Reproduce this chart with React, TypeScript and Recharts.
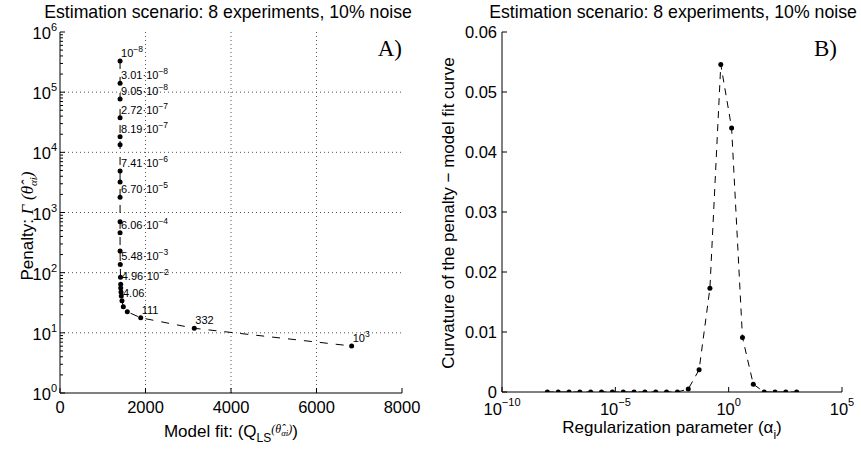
import React from 'react';
import { LineChart, Line, XAxis, YAxis, ReferenceLine, LabelList } from 'recharts';

const FONT = '"Liberation Sans", Arial, Helvetica, sans-serif';
const SERIF = '"Liberation Serif", "Times New Roman", serif';

// Regularization parameters
const alphas = [1e-8, 3.01e-8, 9.05e-8, 2.72e-7, 8.19e-7, 2.46e-6, 7.41e-6, 2.23e-5, 6.7e-5, 2.02e-4, 6.06e-4, 1.82e-3, 5.48e-3, 1.65e-2, 4.96e-2, 0.149, 0.449, 1.35, 4.06, 12.2, 36.8, 111, 332, 1000];
// Panel A: model fit (x) and penalty (y, log)
const modelFit = [1405, 1405, 1405, 1405, 1405, 1405, 1405, 1405, 1405, 1405, 1405, 1405, 1410, 1415, 1420, 1420, 1427, 1434, 1450, 1481, 1574, 1888, 3141, 6822];
const penalty = [3.3e5, 1.4e5, 7.7e4, 3.76e4, 1.82e4, 1.34e4, 4.9e3, 3.21e3, 1.79e3, 703, 461, 229, 137, 83.7, 64.1, 55.6, 47.7, 40.9, 34.2, 27.2, 22.4, 17.8, 11.9, 6.04];
const pointLabels = ['10^-8', '3.01·10^-8', '9.05·10^-8', '2.72·10^-7', '8.19·10^-7', '', '7.41·10^-6', '', '6.70·10^-5', '', '6.06·10^-4', '', '5.48·10^-3', '', '4.96·10^-2', '', '', '', '4.06', '', '', '111', '332', '10^3'];
// Panel B: curvature
const curvature = [0, 0, 0, 0, 0, 0, 0, 0, 0, 0, 0, 0, 0, 0.0005, 0.0037, 0.0173, 0.0546, 0.044, 0.0091, 0.0013, 0, 0, 0, 0];

const fitTicks = [0, 2000, 4000, 6000, 8000];
const penaltyMajor = [1, 10, 100, 1e3, 1e4, 1e5, 1e6];
const alphaTicks = [1e-10, 1e-5, 1, 1e5];
const curvTicks = [0, 0.01, 0.02, 0.03, 0.04, 0.05, 0.06];
const title = 'Estimation scenario: 8 experiments, 10% noise';

const penaltyTicks: number[] = [];
penaltyMajor.slice(0, -1).forEach((d) => {
  for (let m = 1; m <= 9; m++) penaltyTicks.push(m * d);
});
penaltyTicks.push(penaltyMajor[penaltyMajor.length - 1]);

const leftData = alphas.map((a, i) => ({ alpha: a, fit: modelFit[i], penalty: penalty[i], label: pointLabels[i] }));
const rightData = alphas.map((a, i) => ({ alpha: a, curv: curvature[i] }));

const TICK_FS = 16.5;

const isMajor = (v: number) => {
  const lg = Math.log10(v);
  return Math.abs(lg - Math.round(lg)) < 1e-6;
};
const expStr = (v: number) => String(Math.round(Math.log10(v))).replace('-', '\u2212');

function PenaltyTick(p: any) {
  const { x, y, payload } = p;
  const v = payload.value;
  const major = isMajor(v);
  return (
    <g>
      <line x1={x} x2={x + (major ? 5 : 3)} y1={y} y2={y} stroke="#000" strokeWidth={1} />
      {major && (
        <text x={x - 3} y={y + 7} textAnchor="end" fontSize={TICK_FS} fontFamily={FONT} fill="#000">
          10<tspan dy={-8} fontSize={11}>{expStr(v)}</tspan>
        </text>
      )}
    </g>
  );
}
function PenaltyMirrorTick(p: any) {
  const { x, y, payload } = p;
  const major = isMajor(payload.value);
  return <line x1={x} x2={x - (major ? 5 : 3)} y1={y} y2={y} stroke="#000" strokeWidth={1} />;
}
function FitTick(p: any) {
  const { x, y, payload } = p;
  return (
    <g>
      <line x1={x} x2={x} y1={y} y2={y - 5} stroke="#000" />
      <text x={x} y={y + 20} textAnchor="middle" fontSize={TICK_FS} fontFamily={FONT} fill="#000">
        {payload.value}
      </text>
    </g>
  );
}
function TopTick(p: any) {
  const { x, y } = p;
  return <line x1={x} x2={x} y1={y} y2={y + 5} stroke="#000" />;
}
function AlphaTick(p: any) {
  const { x, y, payload } = p;
  return (
    <g>
      <line x1={x} x2={x} y1={y} y2={y - 5} stroke="#000" />
      <text x={x} y={y + 23} textAnchor="middle" fontSize={TICK_FS} fontFamily={FONT} fill="#000">
        10<tspan dy={-9} fontSize={11}>{expStr(payload.value)}</tspan>
      </text>
    </g>
  );
}
function CurvTick(p: any) {
  const { x, y, payload } = p;
  const v = payload.value;
  return (
    <g>
      <line x1={x} x2={x + 5} y1={y} y2={y} stroke="#000" />
      <text x={x - 5} y={y + 6} textAnchor="end" fontSize={TICK_FS} fontFamily={FONT} fill="#000">
        {v === 0 ? '0' : v.toFixed(2)}
      </text>
    </g>
  );
}
function CurvMirrorTick(p: any) {
  const { x, y } = p;
  return <line x1={x} x2={x - 5} y1={y} y2={y} stroke="#000" />;
}

function PointLabel(p: any) {
  const { x, y, value } = p;
  if (!value) return null;
  const parts = String(value).split('^');
  return (
    <text x={x + 1} y={y - 4} fontSize={11} fontFamily={FONT} fill="#000">
      {parts[0]}
      {parts.length > 1 && (
        <tspan dy={-5} fontSize={8.5}>
          {parts[1].replace('-', '\u2212')}
        </tspan>
      )}
    </text>
  );
}

const axisLine = { stroke: '#000', strokeWidth: 1 };
const grid = { stroke: '#555', strokeDasharray: '1 3', strokeWidth: 1 };

export default function App() {
  return (
    <div style={{ position: 'absolute', left: 0, top: 0, width: 861, height: 449, background: '#fff', overflow: 'hidden' }}>
      <div style={{ position: 'absolute', left: 0, top: 0 }}>
        <LineChart width={440} height={449} data={leftData} margin={{ top: 32, right: 38, bottom: 0, left: 0 }}>
          <XAxis xAxisId="b" orientation="bottom" type="number" dataKey="fit" domain={[0, 8000]} ticks={fitTicks} interval={0}
            tickSize={0} tickMargin={0} tickLine={false} tick={FitTick} height={56} axisLine={axisLine} allowDataOverflow />
          <XAxis xAxisId="t" orientation="top" type="number" dataKey="fit" domain={[0, 8000]} ticks={fitTicks} interval={0}
            tickSize={0} tickMargin={0} tickLine={false} tick={TopTick} height={0} axisLine={axisLine} allowDataOverflow />
          <YAxis yAxisId="l" orientation="left" type="number" scale="log" dataKey="penalty" domain={[1, 1e6]} ticks={penaltyTicks}
            interval={0} tickSize={0} tickMargin={0} tickLine={false} tick={PenaltyTick} width={60} axisLine={axisLine} allowDataOverflow />
          <YAxis yAxisId="r" orientation="right" type="number" scale="log" dataKey="penalty" domain={[1, 1e6]} ticks={penaltyTicks}
            interval={0} tickSize={0} tickMargin={0} tickLine={false} tick={PenaltyMirrorTick} width={0} axisLine={axisLine} allowDataOverflow />
          {fitTicks.slice(1, -1).map((v) => (
            <ReferenceLine key={'gx' + v} xAxisId="b" yAxisId="l" x={v} {...grid} />
          ))}
          {penaltyMajor.slice(1, -1).map((v) => (
            <ReferenceLine key={'gy' + v} xAxisId="b" yAxisId="l" y={v} {...grid} />
          ))}
          <Line xAxisId="b" yAxisId="l" dataKey="penalty" stroke="#000" strokeWidth={1} strokeDasharray="8 8"
            dot={{ r: 2.5, fill: '#000', stroke: 'none' }} isAnimationActive={false}>
            <LabelList dataKey="label" content={PointLabel} />
          </Line>
        </LineChart>
      </div>
      <div style={{ position: 'absolute', left: 440, top: 0 }}>
        <LineChart width={421} height={449} data={rightData} margin={{ top: 32, right: 19, bottom: 0, left: 0 }}>
          <XAxis xAxisId="b" orientation="bottom" type="number" scale="log" dataKey="alpha" domain={[1e-10, 1e5]} ticks={alphaTicks}
            interval={0} tickSize={0} tickMargin={0} tickLine={false} tick={AlphaTick} height={57} axisLine={axisLine} allowDataOverflow />
          <XAxis xAxisId="t" orientation="top" type="number" scale="log" dataKey="alpha" domain={[1e-10, 1e5]} ticks={alphaTicks}
            interval={0} tickSize={0} tickMargin={0} tickLine={false} tick={TopTick} height={0} axisLine={axisLine} allowDataOverflow />
          <YAxis yAxisId="l" orientation="left" type="number" dataKey="curv" domain={[0, 0.06]} ticks={curvTicks} interval={0}
            tickSize={0} tickMargin={0} tickLine={false} tick={CurvTick} width={62} axisLine={axisLine} allowDataOverflow />
          <YAxis yAxisId="r" orientation="right" type="number" dataKey="curv" domain={[0, 0.06]} ticks={curvTicks} interval={0}
            tickSize={0} tickMargin={0} tickLine={false} tick={CurvMirrorTick} width={0} axisLine={axisLine} allowDataOverflow />
          <Line xAxisId="b" yAxisId="l" dataKey="curv" stroke="#000" strokeWidth={1} strokeDasharray="7 6"
            dot={{ r: 2.5, fill: '#000', stroke: 'none' }} isAnimationActive={false} />
        </LineChart>
      </div>

      {/* titles */}
      <div style={{ position: 'absolute', left: 0, width: 456, top: 2, textAlign: 'center', fontFamily: FONT, fontSize: 17.7, lineHeight: '20px', whiteSpace: 'nowrap' }}>{title}</div>
      <div style={{ position: 'absolute', left: 473, width: 400, top: 2, textAlign: 'center', fontFamily: FONT, fontSize: 17.7, lineHeight: '20px', whiteSpace: 'nowrap' }}>{title}</div>

      {/* panel tags */}
      <div style={{ position: 'absolute', left: 342, width: 60, top: 36, textAlign: 'right', fontFamily: SERIF, fontSize: 23, lineHeight: '26px' }}>A)</div>
      <div style={{ position: 'absolute', left: 777, width: 60, top: 36, textAlign: 'right', fontFamily: SERIF, fontSize: 23, lineHeight: '26px' }}>B)</div>

      {/* x labels */}
      <div style={{ position: 'absolute', left: 60, width: 342, top: 422, textAlign: 'center', fontFamily: FONT, fontSize: 17, lineHeight: '20px', whiteSpace: 'nowrap' }}>
        Model fit: (Q<span style={{ fontSize: 12, position: 'relative', top: 5 }}>LS</span>
        <span style={{ fontSize: 12, position: 'relative', top: -4, fontFamily: SERIF, fontStyle: 'italic' }}>(θ̂<span style={{ fontSize: 9, position: 'relative', top: 3 }}>αi</span>)</span>)
      </div>
      <div style={{ position: 'absolute', left: 502, width: 340, top: 418, textAlign: 'center', fontFamily: FONT, fontSize: 17, lineHeight: '20px', whiteSpace: 'nowrap' }}>
        Regularization parameter (α<span style={{ fontSize: 12, position: 'relative', top: 6 }}>i</span>)
      </div>

      {/* y labels */}
      <div style={{ position: 'absolute', left: 28, top: 226, transform: 'translate(-50%, -50%) rotate(-90deg)', fontFamily: FONT, fontSize: 17, lineHeight: '20px', whiteSpace: 'nowrap' }}>
        Penalty: <span style={{ fontFamily: SERIF, fontStyle: 'italic' }}>Γ</span> <span style={{ fontFamily: SERIF, fontStyle: 'italic' }}>(θ̂<span style={{ fontSize: 11, position: 'relative', top: 4 }}>αi</span>)</span>
      </div>
      <div style={{ position: 'absolute', left: 449, top: 213, transform: 'translate(-50%, -50%) rotate(-90deg)', fontFamily: FONT, fontSize: 17, lineHeight: '20px', whiteSpace: 'nowrap' }}>
        Curvature of the penalty − model fit curve
      </div>
    </div>
  );
}
